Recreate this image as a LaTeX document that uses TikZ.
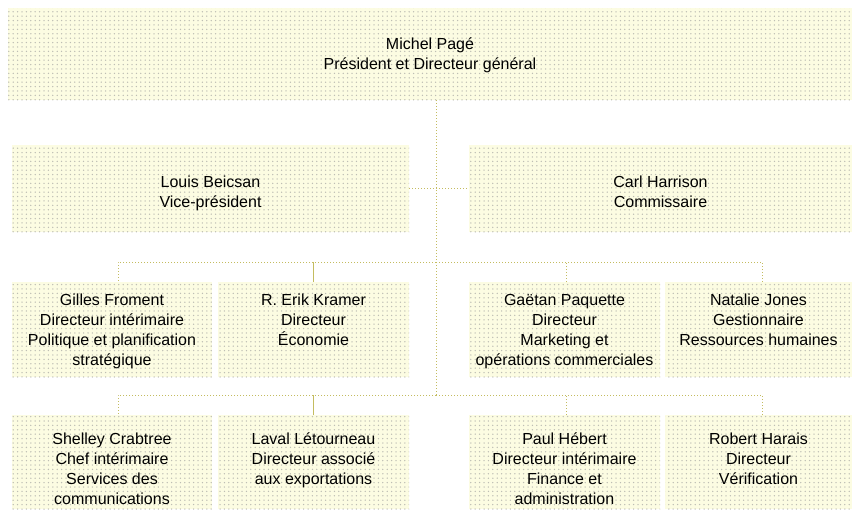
\documentclass[tikz,border=0pt]{standalone}
\usepackage{fontspec}
\setmainfont{Liberation Sans}
\usetikzlibrary{patterns}
\pgfdeclarepatternformonly{orgdots}{\pgfqpoint{-1pt}{-1pt}}{\pgfqpoint{1pt}{1pt}}{\pgfqpoint{4.4pt}{4.4pt}}{\pgfpathcircle{\pgfqpoint{0pt}{0pt}}{0.75pt}\pgfusepath{fill}}
\definecolor{boxfill}{RGB}{252,252,226}
\definecolor{dotgray}{RGB}{190,190,180}
\definecolor{linecol}{RGB}{196,188,96}
\newcommand\bxc[4]{\parbox[c][#2][t]{#1}{\centering\fontsize{16}{20}\selectfont\vspace*{#3}\strut #4}}
\newcommand\bxt[4]{\parbox[c][#2][t]{#1}{\centering\fontsize{16}{20}\selectfont\vspace*{#3}\strut #4}}
\tikzset{
  orgbox/.style={rectangle, inner sep=0pt, fill=boxfill, postaction={pattern=orgdots, pattern color=dotgray}},
  conn/.style={draw=linecol, line width=1pt, dotted},
  connsolid/.style={draw=linecol, line width=0.9pt}
}
\begin{document}
\begin{tikzpicture}[x=1pt,y=-1pt]
\useasboundingbox (0,0) rectangle (857,509);
% row 1
\node[orgbox] (top) at (430,54) {\bxc{844pt}{92pt}{27pt}{Michel Pagé\\Président et Directeur général}};
% row 2
\node[orgbox] (louis) at (210.5,188.5) {\bxc{397pt}{87pt}{28pt}{Louis Beicsan\\Vice-président}};
\node[orgbox] (carl) at (660.5,188.5) {\bxc{383pt}{87pt}{28pt}{Carl Harrison\\Commissaire}};
% row 3
\node[orgbox] (gilles) at (112,329.5) {\bxt{200pt}{95pt}{9pt}{Gilles Froment\\Directeur intérimaire\\Politique et planification\\stratégique}};
\node[orgbox] (erik) at (313.5,329.5) {\bxt{191pt}{95pt}{9pt}{R. Erik Kramer\\Directeur\\Économie}};
\node[orgbox] (gaetan) at (564.5,329.5) {\bxt{191pt}{95pt}{9pt}{Gaëtan Paquette\\Directeur\\Marketing et\\opérations commerciales}};
\node[orgbox] (natalie) at (758.5,329.5) {\bxt{187pt}{95pt}{9pt}{Natalie Jones\\Gestionnaire\\Ressources humaines}};
% row 4
\node[orgbox] (shelley) at (112,462) {\bxt{200pt}{94pt}{15pt}{Shelley Crabtree\\Chef intérimaire\\Services des\\communications}};
\node[orgbox] (laval) at (313.5,462) {\bxt{191pt}{94pt}{15pt}{Laval Létourneau\\Directeur associé\\aux exportations}};
\node[orgbox] (paul) at (564.5,462) {\bxt{191pt}{94pt}{15pt}{Paul Hébert\\Directeur intérimaire\\Finance et\\administration}};
\node[orgbox] (robert) at (758.5,462) {\bxt{187pt}{94pt}{15pt}{Robert Harais\\Directeur\\Vérification}};
% junctions
\coordinate (j2) at (436,188.5);
\coordinate (j3) at (436,262);
\coordinate (j4) at (436,395);
% connectors
\draw[conn] (top.south -| j2) -- (j4);
\draw[conn] (louis.east) -- (carl.west);
\draw[conn] (j3) -| ([xshift=6pt]gilles.north);
\draw[conn] (j3) -| ([xshift=3.5pt]natalie.north);
\draw[connsolid] (erik.north) -- (erik.north |- j3);
\draw[conn] (gaetan.north) ++(1.5,0) -- ++(0,-21);
\draw[conn] (j4) -| ([xshift=6pt]shelley.north);
\draw[conn] (j4) -| ([xshift=3.5pt]robert.north);
\draw[connsolid] (laval.north) -- (laval.north |- j4);
\draw[conn] (paul.north) ++(1.5,0) -- ++(0,-20);
\end{tikzpicture}
\end{document}
